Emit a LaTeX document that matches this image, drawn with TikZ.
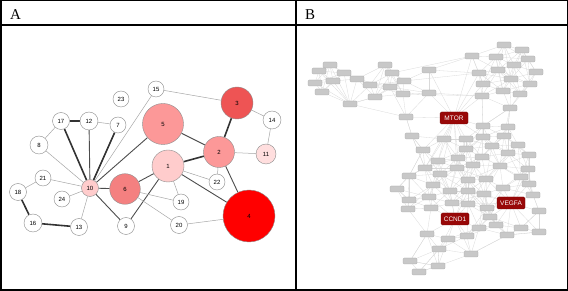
\documentclass[tikz,border=0pt]{standalone}
\usepackage{fontspec}
\setmainfont{Liberation Serif}
\newfontfamily\labelfont{Liberation Sans}
\usetikzlibrary{backgrounds}
\definecolor{pinkA}{RGB}{255,204,204}
\definecolor{pinkB}{RGB}{252,152,152}
\definecolor{pinkC}{RGB}{244,128,128}
\definecolor{pinkD}{RGB}{238,84,84}
\definecolor{pinkE}{RGB}{255,222,222}
\definecolor{boxgray}{RGB}{200,200,200}
\definecolor{hubred}{RGB}{152,8,8}
\newcommand\bxof[1]{\csname bx#1\endcsname}
\newcommand\byof[1]{\csname by#1\endcsname}

\begin{document}
\begin{tikzpicture}[x=1pt, y=-1pt, every node/.style={font=\labelfont\fontsize{6}{6}\selectfont},
	thickedge/.style={black!80, line width=1.6pt}, midedge/.style={black!70, line width=0.9pt},
	thinedge/.style={black!35, line width=0.5pt}, bedge/.style={black!15, line width=0.3pt},
	gbox/.style={rectangle, rounded corners=1pt, draw=black!35, fill=boxgray, line width=0.3pt, minimum width=14, minimum height=6, inner sep=0pt},
	hubbox/.style={rectangle, rounded corners=1.5pt, draw=hubred!80!black, fill=hubred, text=white, minimum width=28, minimum height=12, inner sep=0pt, font=\labelfont\fontsize{6.5}{6.5}\selectfont}]
	\useasboundingbox (0,0) rectangle (568,291);
	\draw[line width=1.5pt] (0.75,0.75) rectangle (567.25,290.25);
	\draw[line width=1.5pt] (0.75,25) -- (567.25,25);
	\draw[line width=1.5pt] (296,0.75) -- (296,290.25);
	\node[font=\rmfamily\fontsize{15}{15}\selectfont] (panelA) at (15.5,15) {A};
	\node[font=\rmfamily\fontsize{15}{15}\selectfont] (panelB) at (310,15) {B};
	\foreach \n/\x/\y/\r/\c in {1/168/166/16/pinkA, 2/219/152/15.5/pinkB, 3/237/103/16/pinkD, 4/249/216/26/red, 5/163/124/20.5/pinkB, 6/125/189/15.3/pinkC, 7/118/125/8/white, 8/39/145/9/white, 9/126/226/8.5/white, 10/90/188/8.5/pinkA, 11/266/154/10/pinkE, 12/89/121/9/white, 13/79/227/8.5/white, 14/272/120/9/white, 15/156/89/8/white, 16/33/223/9/white, 17/61/121/8.5/white, 18/18/192/8.5/white, 19/181/202/8/white, 20/179/225/8.5/white, 21/43/178/8/white, 22/217/182/8/white, 23/121/99/8/white, 24/62/199/8/white}
		\node[circle, draw=black!45, line width=0.4pt, fill=\c, inner sep=0pt, minimum size=2*\r] (n\n) at (\x,\y) {\n};
	\foreach \x/\y [count=\k] in {330/65, 319/71, 344/73, 315/83, 333/81, 357/79, 322/92, 350/104, 385/65, 392/73, 370/85, 390/87, 404/81, 375/97, 403/94, 429/70, 429/93,
		504/45, 522/50, 472/56, 496/57, 528/59, 514/65, 479/73, 498/70, 536/72, 511/79, 483/84, 530/84, 503/91, 520/94, 482/96, 510/108,
		406/117, 412/136, 483/126, 508/127, 444/139, 466/139, 483/137, 504/136, 423/150, 466/149, 492/146, 518/145, 508/153, 529/155, 438/161, 458/158, 482/157, 425/168, 457/168, 473/165, 500/166, 528/169,
		440/174, 409/176, 468/180, 486/179, 521/177, 397/189, 433/185, 450/191, 468/191, 484/194, 503/188, 529/184, 533/195, 409/200, 429/197, 408/209, 431/208, 452/203, 468/204, 487/208, 539/211,
		490/217, 479/228, 496/225, 521/228, 539/232, 507/235, 467/236, 427/234, 448/239, 439/249, 471/254, 410/261, 438/266, 419/272} {
		\node[gbox] (g\k) at (\x,\y) {};
		\expandafter\xdef\csname bx\k\endcsname{\x}
		\expandafter\xdef\csname by\k\endcsname{\y}
	}
	\node[hubbox] (mtor) at (454,118) {MTOR};
	\node[hubbox] (vegfa) at (511,203) {VEGFA};
	\node[hubbox] (ccnd1) at (455,219) {CCND1};
	\begin{scope}[on background layer]
		\foreach \a/\b in {17/12, 16/13, 18/16, 2/3, 1/2, 7/10, 17/10} \draw[thickedge] (n\a) -- (n\b);
		\foreach \a/\b in {12/10, 5/10, 6/10, 9/10, 6/1, 9/1, 1/4, 5/2, 2/4} \draw[midedge] (n\a) -- (n\b);
		\foreach \a/\b in {12/7, 17/8, 8/10, 15/10, 21/10, 24/10, 13/10, 18/21, 6/19, 6/20, 1/19, 1/22, 2/11, 2/22, 11/14, 14/3, 15/3, 20/4} \draw[thinedge] (n\a) -- (n\b);
		\foreach \i in {1,...,90} {
			\foreach \j in {1,...,90} {
				\ifnum\i<\j
					\ifnum\numexpr(\bxof\i-\bxof\j)*(\bxof\i-\bxof\j)+(\byof\i-\byof\j)*(\byof\i-\byof\j)\relax<1225
						\draw[bedge] (g\i) -- (g\j);
					\fi
				\fi
			}
		}
		\foreach \k in {34,17,16,20,24,28,32,38,39,40,42,43,48,49,51,52,56,36} \draw[bedge] (mtor) -- (g\k);
		\foreach \k in {66,67,68,75,76,77,79,80,81,82,59,60,65,74,64,55} \draw[bedge] (vegfa) -- (g\k);
		\foreach \k in {72,73,74,78,83,85,84,86,87,63,64,70,58} \draw[bedge] (ccnd1) -- (g\k);
		\foreach \a/\b in {8/34, 34/35, 35/42, 35/51, 13/24, 16/20, 16/24, 17/32, 15/32, 10/20, 12/17, 8/14, 1/8, 2/8, 4/8, 88/84, 89/86, 90/86, 88/89, 90/89, 87/80, 87/89, 82/87, 81/82, 80/76, 33/36, 33/37, 32/36, 57/61, 61/69, 42/57, 57/48} \draw[bedge] (g\a) -- (g\b);
	\end{scope}
\end{tikzpicture}
\end{document}
